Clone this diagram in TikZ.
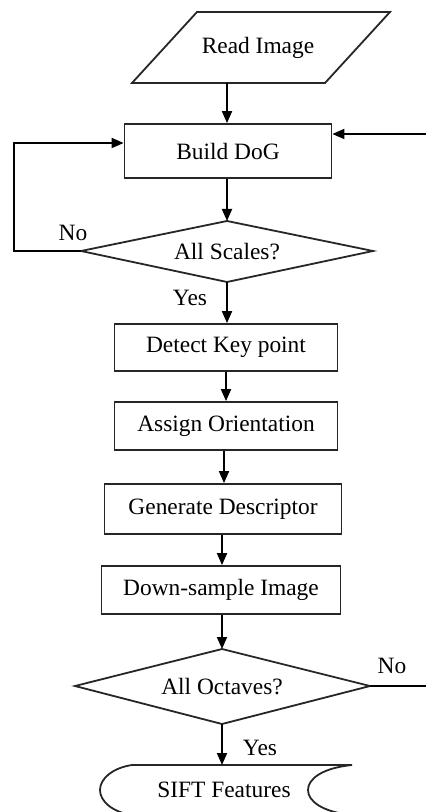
\documentclass[tikz,border=0pt]{standalone}
\usepackage{fontspec}
\setmainfont{Liberation Serif}
\usetikzlibrary{arrows.meta}
\begin{document}
\begin{tikzpicture}[x=0.5pt,y=-0.5pt,
  every node/.style={font=\fontsize{11.7}{14}\selectfont, inner sep=0pt},
  outline/.style={draw=black!85, line width=0.9pt},
  stepbox/.style={outline, rectangle, minimum width=#1*0.5pt, minimum height=24pt},
  flow/.style={line width=0.9pt, -{Triangle[length=6pt,width=5pt]}},
  plain/.style={line width=0.9pt}]
\useasboundingbox (0,0) rectangle (426,812);
\clip (0,0) rectangle (426,812);

% input parallelogram
\draw[outline] (197,12) -- (390,12) -- (325,83) -- (132,83) -- cycle;
\node (read) at (258,48) {Read Image};
\coordinate (readout) at (227,83);

% processing boxes
\node[stepbox=207, minimum height=27pt] (dog) at (228,151) {Build DoG};
\node[stepbox=223, minimum height=23.5pt] (detect) at (226,347.5) {Detect Key point};
\node[stepbox=223] (orient) at (226,426) {Assign Orientation};
\node[stepbox=237, minimum height=25pt] (descr) at (223,509) {Generate Descriptor};
\node[stepbox=239] (down) at (221,590) {Down-sample Image};

% decision: all scales
\coordinate (scalesN) at (227,221);
\coordinate (scalesS) at (227,282);
\coordinate (scalesW) at (81,251);
\coordinate (scalesE) at (373,251);
\draw[outline] (scalesN) -- (scalesE) -- (scalesS) -- (scalesW) -- cycle;
\node (scales) at (227,252) {All Scales?};

% decision: all octaves
\coordinate (octN) at (222,649);
\coordinate (octS) at (222,724);
\coordinate (octW) at (75,686);
\coordinate (octE) at (370,686);
\draw[outline] (octN) -- (octE) -- (octS) -- (octW) -- cycle;
\node (octaves) at (222,687) {All Octaves?};

% stored-data terminal
\draw[outline] (132,765) -- (352,765)
  .. controls (322,768) and (308,779) .. (308,790)
  .. controls (308,801) and (322,812) .. (352,815)
  -- (132,815)
  .. controls (112,812) and (100,801) .. (100,790)
  .. controls (100,779) and (112,768) .. (132,765);
\node (sift) at (224,790) {SIFT Features};
\coordinate (siftin) at (222,765);

% free ends at the right margin
\coordinate (retin) at (426,134);
\coordinate (retout) at (426,686);

% connectors
\draw[flow] (readout) -- (readout |- dog.north);
\draw[flow] (dog.south -| scalesN) -- (scalesN);
\draw[flow] (scalesS) -- (scalesS |- detect.north);
\draw[flow] (detect.south) -- (orient.north);
\draw[flow] (orient.south -| 224,0) -- (descr.north -| 224,0);
\draw[flow] (descr.south -| 222,0) -- (down.north -| 222,0);
\draw[flow] (down.south -| octN) -- (octN);
\draw[flow] (octS) -- (siftin);
\draw[flow] (scalesW) -- (14,251) -- (14,143) -- (dog.west |- 0,143);
\draw[flow] (retin) -- (dog.east |- retin);
\draw[plain] (octE) -- (retout);

% branch labels
\node at (73,233) {No};
\node at (190,298) {Yes};
\node at (392,666) {No};
\node at (260,748) {Yes};
\end{tikzpicture}
\end{document}
